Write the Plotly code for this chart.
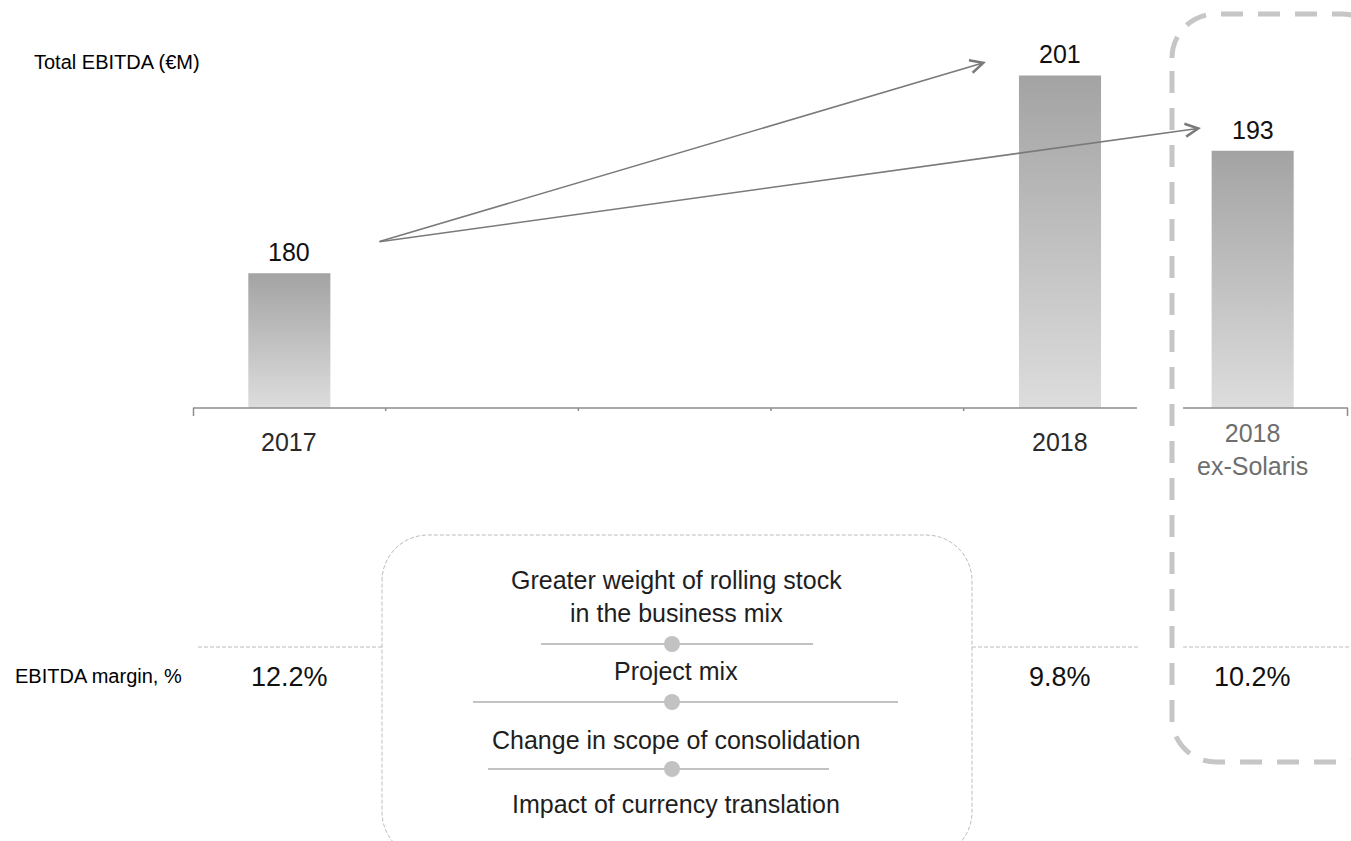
import plotly.graph_objects as go

# ---------------- data ----------------
bar_labels = ["2017", "2018", "2018<br>ex-Solaris"]
ebitda = [180, 201, 193]
margin_pct = [12.2, 9.8, 10.2]
drivers = [
    "Greater weight of rolling stock<br>in the business mix",
    "Project mix",
    "Change in scope of consolidation",
    "Impact of currency translation",
]
title_text = "Total EBITDA (€M)"
margin_label = "EBITDA margin, %"

# ---------------- layout helpers ----------------
W, H = 1351, 841
FONT = "Liberation Sans, Arial, Helvetica, sans-serif"


def px(x):
    return x / W


def py(y):
    return 1 - y / H


slots = [0, 4, 5]          # slot index of each bar on the category axis
bar_w = 0.426
y_base = 165.7
y_top = 209.0
label_colors = ["#2a2a2a", "#2a2a2a", "#6e6e6e"]

fig = go.Figure()

# bars with vertical gradient
for s, v in zip(slots, ebitda):
    fig.add_trace(go.Scatter(
        x=[s - bar_w / 2, s + bar_w / 2, s + bar_w / 2, s - bar_w / 2, s - bar_w / 2],
        y=[y_base, y_base, v, v, y_base],
        mode="none", fill="toself",
        fillgradient=dict(type="vertical",
                          colorscale=[[0, "#dddddd"], [1, "#a3a3a3"]]),
        hoverinfo="skip", showlegend=False,
    ))

annotations = []
# value labels
for s, v in zip(slots, ebitda):
    annotations.append(dict(x=s, y=v, xref="x", yref="y", text=str(v),
                            showarrow=False, yanchor="bottom", yshift=5,
                            font=dict(family=FONT, size=25, color="#111111")))
# category labels
for s, lab, c in zip(slots, bar_labels, label_colors):
    n_lines = lab.count("<br>") + 1
    annotations.append(dict(x=s, y=py(426 - 9 * (n_lines - 1)), xref="x", yref="paper",
                            text=lab, showarrow=False, yanchor="top",
                            font=dict(family=FONT, size=25, color=c)))
# margins
for s, m in zip(slots, margin_pct):
    annotations.append(dict(x=s, y=py(677), xref="x", yref="paper", text=f"{m}%",
                            showarrow=False, yanchor="middle",
                            font=dict(family=FONT, size=27, color="#111111")))
# row titles
annotations.append(dict(x=px(32), y=py(62), xref="paper", yref="paper", text=title_text,
                        showarrow=False, xanchor="left", yanchor="middle",
                        font=dict(family=FONT, size=20, color="#000000")))
annotations.append(dict(x=px(13), y=py(676), xref="paper", yref="paper", text=margin_label,
                        showarrow=False, xanchor="left", yanchor="middle",
                        font=dict(family=FONT, size=20, color="#000000")))
# drivers
driver_y = [596, 671, 740, 804]
for t, yy in zip(drivers, driver_y):
    annotations.append(dict(x=px(676), y=py(yy), xref="paper", yref="paper", text=t,
                            showarrow=False, yanchor="middle", align="center",
                            font=dict(family=FONT, size=25, color="#1e1e1e")))
# arrows
tail = (378, 242)
for hx, hy in [(986, 62), (1201, 128)]:
    annotations.append(dict(x=px(hx), y=py(hy), xref="paper", yref="paper", text="",
                            showarrow=True, arrowhead=5, arrowsize=1.6, arrowwidth=1.6,
                            arrowcolor="#7a7a7a", ax=tail[0] - hx, ay=tail[1] - hy,
                            axref="pixel", ayref="pixel", standoff=0))

shapes = []
axis_col = "#8c8c8c"


def pline(x0, y0, x1, y1, color, width, dash="solid"):
    shapes.append(dict(type="line", xref="paper", yref="paper",
                       x0=px(x0), y0=py(y0), x1=px(x1), y1=py(y1),
                       line=dict(color=color, width=width, dash=dash)))


# x axis lines
pline(193, 408, 1137, 408, axis_col, 1.5)
pline(193.5, 408, 193.5, 416, axis_col, 1.5)
for k in range(1, 5):
    shapes.append(dict(type="line", xref="x", yref="paper", x0=k - 0.5, x1=k - 0.5,
                       y0=py(408), y1=py(411), line=dict(color=axis_col, width=1.5)))
pline(1183, 408, 1348, 408, axis_col, 1.5)
pline(1347.5, 408, 1347.5, 416, axis_col, 1.5)

# dotted margin separator line
for a, b in [(198, 382), (972, 1138), (1183, 1351)]:
    pline(a, 647, b, 647, "#bdbdbd", 1, "4px,2px")


def rounded_rect(x0, y0, x1, y1, r):
    k = 0.5523 * r
    pts = [
        f"M{px(x0)},{py(y0 + r)}",
        f"C{px(x0)},{py(y0 + r - k)} {px(x0 + r - k)},{py(y0)} {px(x0 + r)},{py(y0)}",
        f"L{px(x1 - r)},{py(y0)}",
        f"C{px(x1 - r + k)},{py(y0)} {px(x1)},{py(y0 + r - k)} {px(x1)},{py(y0 + r)}",
        f"L{px(x1)},{py(y1 - r)}",
        f"C{px(x1)},{py(y1 - r + k)} {px(x1 - r + k)},{py(y1)} {px(x1 - r)},{py(y1)}",
        f"L{px(x0 + r)},{py(y1)}",
        f"C{px(x0 + r - k)},{py(y1)} {px(x0)},{py(y1 - r + k)} {px(x0)},{py(y1 - r)}",
        "Z",
    ]
    return " ".join(pts)


shapes.append(dict(type="path", xref="paper", yref="paper",
                   path=rounded_rect(382, 535, 972, 858, 46),
                   line=dict(color="#bdbdbd", width=1, dash="4px,2px")))
shapes.append(dict(type="path", xref="paper", yref="paper",
                   path=rounded_rect(1172, 14, 1386, 762, 44),
                   line=dict(color="#c6c6c6", width=5, dash="22px,15px")))

# driver separators with dots
for x0, x1, yy in [(541, 813, 644), (473, 898, 702), (488, 829, 769)]:
    pline(x0, yy, x1, yy, "#c2c2c2", 2)
    shapes.append(dict(type="circle", xref="paper", yref="paper",
                       x0=px(664), x1=px(680), y0=py(yy - 8), y1=py(yy + 8),
                       fillcolor="#c2c2c2", line=dict(width=0)))

fig.update_layout(
    width=W, height=H,
    margin=dict(l=0, r=0, t=0, b=0),
    paper_bgcolor="white", plot_bgcolor="white",
    showlegend=False,
    xaxis=dict(range=[-0.5, 5.5], domain=[px(193), px(1349)], visible=False,
               fixedrange=True),
    yaxis=dict(range=[y_base, y_top], domain=[py(408), 1], visible=False,
               fixedrange=True),
    annotations=annotations,
    shapes=shapes,
    font=dict(family=FONT),
)

fig.write_html("out.html", config={"displayModeBar": False},
               post_script="document.body.style.margin='0';document.body.style.overflow='hidden';")
